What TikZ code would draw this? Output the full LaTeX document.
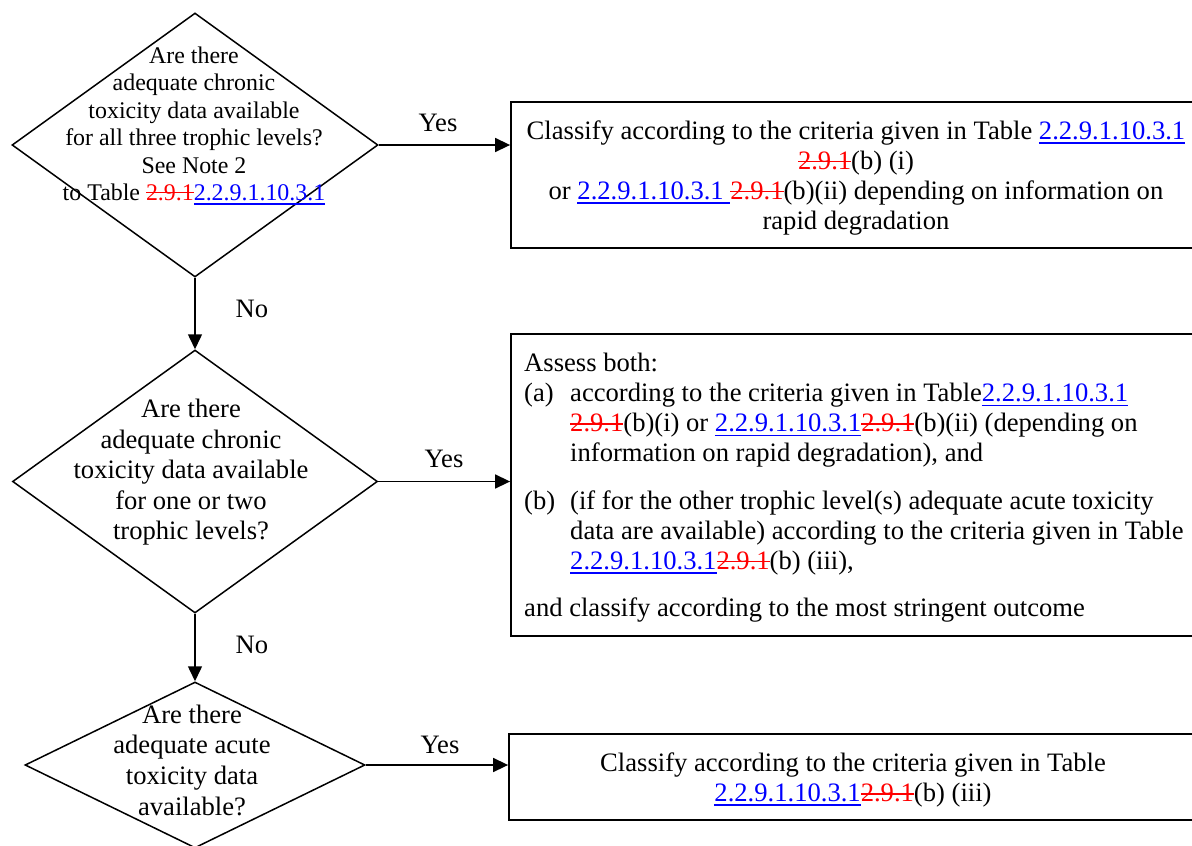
\documentclass[tikz,border=0pt]{standalone}
\usepackage{fontspec}
\setmainfont{Liberation Serif}
\usetikzlibrary{shapes.geometric,arrows.meta}
\newcommand{\insref}[1]{{\color{blue}\setbox0\hbox{#1}\rlap{\rule[-4.5pt]{\wd0}{1.8pt}}\box0}}
\newcommand{\delref}[1]{{\color{red}\setbox0\hbox{#1}\rlap{\rule[7.2pt]{\wd0}{1.6pt}}\box0}}
\tikzset{
  dec/.style={shape=diamond, draw, line width=1.5pt, inner sep=0pt},
  outbox/.style={draw, line width=1.8pt, inner sep=0pt},
  big/.style={font=\fontsize{26.6}{30}\selectfont},
  small/.style={font=\fontsize{23.9}{27.5}\selectfont},
  dtext/.style={align=center, inner sep=0pt},
  arr/.style={line width=1.5pt, -{Triangle[length=15pt,width=14pt]}},
  lab/.style={big, anchor=base, inner sep=0pt}
}
\begin{document}
\begin{tikzpicture}[x=1pt,y=-1pt]
\useasboundingbox (0,0) rectangle (1192,846);
\clip (0,0) rectangle (1192,846);
% decisions
\node[dec, minimum width=366pt, minimum height=264pt] (d1) at (195,145) {};
\node[dec, minimum width=365pt, minimum height=263pt] (d2) at (195,481.5) {};
\node[dec, minimum width=340pt, minimum height=166pt] (d3) at (195,765) {};
\node[dtext, small] (d1t) at (194,126.3) {\strut Are there\\adequate chronic\\toxicity data available\\for all three trophic levels?\\See Note 2\\to Table \delref{2.9.1}\insref{2.2.9.1.10.3.1}\strut};
\node[dtext, big, font=\fontsize{26.6}{30.4}\selectfont] (d2t) at (191,472.7) {\strut Are there\\adequate chronic\\toxicity data available\\for one or two\\trophic levels?\strut};
\node[dtext, big, font=\fontsize{26.6}{30.6}\selectfont] (d3t) at (192,763) {\strut Are there\\adequate acute\\toxicity data\\available?\strut};
% outcome boxes
\node[outbox, minimum width=690pt, minimum height=146pt] (b1) at (856,175) {};
\node[outbox, minimum width=690pt, minimum height=302pt] (b2) at (856,485) {};
\node[outbox, minimum width=688pt, minimum height=86pt] (b3) at (853,777) {};
\node[dtext, big] (b1t) at (856,178.5) {\strut Classify according to the criteria given in Table \insref{2.2.9.1.10.3.1}\\\delref{2.9.1}(b) (i)\\or \insref{2.2.9.1.10.3.1\ }\delref{2.9.1}(b)(ii) depending on information on\\rapid degradation\strut};
\node[big, align=left, inner sep=0pt, anchor=north west] (b2t) at (524,350.7) {\strut Assess both:\\
\makebox[46pt][l]{(a)}according to the criteria given in Table\insref{2.2.9.1.10.3.1}\\
\hspace*{46pt}\delref{2.9.1}(b)(i) or \insref{2.2.9.1.10.3.1}\delref{2.9.1}(b)(ii) (depending on\\
\hspace*{46pt}information on rapid degradation), and\\[17.5pt]
\makebox[46pt][l]{(b)}(if for the other trophic level(s) adequate acute toxicity\\
\hspace*{46pt}data are available) according to the criteria given in Table\\
\hspace*{46pt}\insref{2.2.9.1.10.3.1}\delref{2.9.1}(b) (iii),\\[16.7pt]
and classify according to the most stringent outcome};
\node[dtext, big] (b3t) at (853,780.7) {\strut Classify according to the criteria given in Table\\\insref{2.2.9.1.10.3.1}\delref{2.9.1}(b) (iii)\strut};
% connectors
\draw[arr] (d1.south) -- (d2.north);
\draw[arr] (d2.south) -- (d3.north);
\draw[arr] (d1.east) -- (d1.east -| b1.west);
\draw[arr] (d2.east) -- (d2.east -| b2.west);
\draw[arr] (d3.east) -- (d3.east -| b3.west);
% labels
\node[lab] (y1) at (438,131.7) {Yes};
\node[lab] (y2) at (444,467) {Yes};
\node[lab] (y3) at (440,753) {Yes};
\node[lab] (n1) at (252,317) {No};
\node[lab] (n2) at (252,653) {No};
\end{tikzpicture}
\end{document}
